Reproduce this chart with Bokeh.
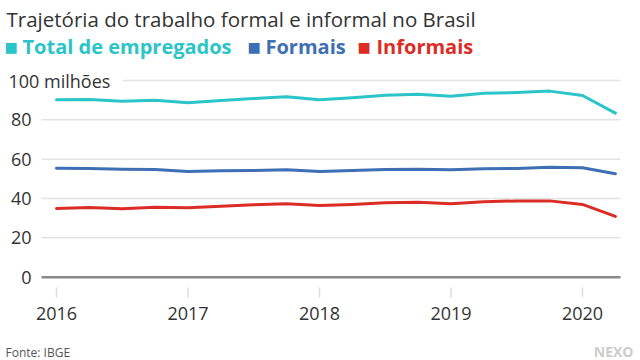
from bokeh.plotting import figure
from bokeh.models import Range1d, Label
from bokeh.embed import file_html
from bokeh.resources import INLINE

# ---- data ----
quarters = [2016.0, 2016.25, 2016.5, 2016.75, 2017.0, 2017.25, 2017.5, 2017.75,
            2018.0, 2018.25, 2018.5, 2018.75, 2019.0, 2019.25, 2019.5, 2019.75,
            2020.0, 2020.25]
total = [90.2, 90.3, 89.5, 89.9, 88.7, 89.8, 90.8, 91.7, 90.2, 91.2, 92.5, 93.0,
         92.0, 93.5, 93.9, 94.6, 92.4, 83.4]
formais = [55.4, 55.3, 54.9, 54.8, 53.7, 54.1, 54.2, 54.6, 53.7, 54.2, 54.8, 54.9,
           54.6, 55.1, 55.3, 55.9, 55.6, 52.6]
informais = [34.9, 35.4, 34.8, 35.6, 35.3, 36.1, 36.8, 37.3, 36.5, 37.0, 37.8, 38.1,
             37.3, 38.3, 38.8, 38.8, 37.0, 30.9]
year_ticks = [2016, 2017, 2018, 2019, 2020]
year_labels = ["2016", "2017", "2018", "2019", "2020"]
y_ticks = [0, 20, 40, 60, 80, 100]
y_labels = ["0", "20", "40", "60", "80", "100 milhões"]
series_names = ["Total de empregados", "Formais", "Informais"]
series_colors = ["#2bc4c9", "#3e6fb4", "#db2d26"]
title_text = "Trajetória do trabalho formal e informal no Brasil"
source_text = "Fonte: IBGE"
brand_text = "NEXO"

FONT = "Open Sans"

# pixel -> data helpers (layout only)
def dx(px):
    return 2016 + (px - 56) / 131.5

def dy(py):
    return (276.7 - py) / 1.967

W, H = 640, 360
p = figure(width=W, height=H, output_backend="svg", toolbar_location=None,
           x_range=Range1d(dx(0), dx(W)), y_range=Range1d(dy(H), dy(0)),
           x_axis_type=None, y_axis_type=None, min_border=0)
p.outline_line_color = None
p.xgrid.visible = False
p.ygrid.visible = False
p.background_fill_color = "white"
p.border_fill_color = "white"

# gridlines
x_left, x_right = dx(41), dx(620)
x0s = [x_left if t != 100 else dx(122) for t in y_ticks[1:]]
p.segment(x0=x0s, y0=y_ticks[1:], x1=[x_right] * len(x0s), y1=y_ticks[1:],
          line_color="#e3e3e3", line_width=1.5)
p.segment(x0=[x_left], y0=[y_ticks[0]], x1=[x_right], y1=[y_ticks[0]],
          line_color="#888888", line_width=2.5)

# x ticks
p.segment(x0=year_ticks, y0=[dy(287)] * len(year_ticks), x1=year_ticks,
          y1=[dy(297)] * len(year_ticks), line_color="#dddddd", line_width=1.5)

# lines
for vals, col in zip([total, formais, informais], series_colors):
    p.line(quarters, vals, line_color=col, line_width=3, line_join="round", line_cap="round")

# tick labels
for t, l in zip(year_ticks, year_labels):
    p.add_layout(Label(x=t, y=dy(313), text=l, text_font=FONT, text_font_size="18px",
                       text_color="#333333", text_baseline="middle", text_align="center"))
for t, l in zip(y_ticks, y_labels):
    if t == 100:
        p.add_layout(Label(x=dx(8), y=t, text=l, text_font=FONT, text_font_size="18px",
                           text_color="#333333", text_baseline="middle", text_align="left"))
    else:
        p.add_layout(Label(x=dx(31), y=t, text=l, text_font=FONT, text_font_size="18px",
                           text_color="#333333", text_baseline="middle", text_align="right"))

# title
p.add_layout(Label(x=dx(6), y=dy(18), text=title_text, text_font=FONT,
                   text_font_size="20.5px", text_color="#333333", text_baseline="middle"))

# legend
sq_x = [4, 247, 357]
tx_x = [22, 265, 376]
for name, col, sx, tx in zip(series_names, series_colors, sq_x, tx_x):
    p.add_layout(Label(x=dx(sx), y=dy(46), text="\u25a0", text_font="DejaVu Sans",
                       text_font_size="14px", text_color=col, text_baseline="middle"))
    p.add_layout(Label(x=dx(tx), y=dy(46), text=name, text_font=FONT, text_font_style="bold",
                       text_font_size="20px", text_color=col, text_baseline="middle"))

# source + brand
p.add_layout(Label(x=dx(5), y=dy(352), text=source_text, text_font=FONT,
                   text_font_size="12px", text_color="#555555", text_baseline="middle"))
p.add_layout(Label(x=dx(633), y=dy(351), text=brand_text, text_font=FONT, text_font_style="bold",
                   text_font_size="14px", text_color="#cccccc", text_baseline="middle",
                   text_align="right"))

open("out.html", "w").write(file_html(p, INLINE))
